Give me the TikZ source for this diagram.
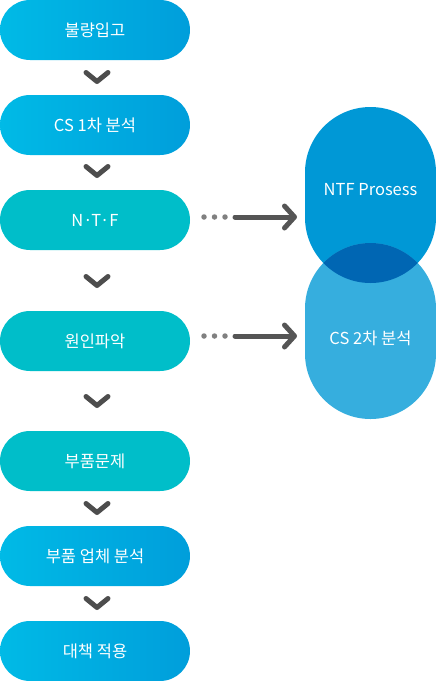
\documentclass[tikz,border=0pt]{standalone}
\usepackage{fontspec}
\setmainfont{Noto Sans CJK KR}
\usetikzlibrary{arrows.meta}
\definecolor{bluel}{RGB}{0,186,230}
\definecolor{bluer}{RGB}{0,158,219}
\definecolor{tealc}{RGB}{0,190,201}
\definecolor{topc}{RGB}{0,152,214}
\definecolor{botc}{RGB}{54,174,222}
\definecolor{overc}{RGB}{0,102,179}
\definecolor{chev}{RGB}{77,77,77}
\definecolor{arrc}{RGB}{85,85,85}
\definecolor{dotc}{RGB}{128,128,128}
\tikzset{
  pill/.style={rectangle, rounded corners=30pt, minimum width=190pt, minimum height=60pt,
    inner sep=0pt, text=white, font=\fontsize{16.5}{18}\selectfont},
  bluepill/.style={pill, left color=bluel, right color=bluer},
  tealpill/.style={pill, fill=tealc},
  tall/.style={rectangle, rounded corners=65.5pt, minimum width=131pt, minimum height=176pt,
    inner sep=0pt, text=white, font=\fontsize{16.5}{18}\selectfont},
  chevline/.style={draw=chev, line width=5pt, line cap=round, line join=round},
  arrline/.style={draw=arrc, line width=5pt, line cap=round, line join=round,
    -{Straight Barb[length=10pt,width=22pt,round]}},
  dotc/.style={circle, fill=dotc, minimum size=5.5pt, inner sep=0pt},
}
\begin{document}
\begin{tikzpicture}
\useasboundingbox (0,0) rectangle (436pt,-681pt);
% left pills
\node[bluepill] (p1) at (95pt,-30pt) {불량입고};
\node[bluepill] (p2) at (95pt,-125pt) {CS 1차 분석};
\node[tealpill] (p3) at (95pt,-220pt) {N·T·F};
\node[tealpill] (p4) at (95pt,-341pt) {원인파악};
\node[tealpill] (p5) at (95pt,-461pt) {부품문제};
\node[bluepill] (p6) at (95pt,-556pt) {부품 업체 분석};
\node[bluepill] (p7) at (95pt,-651pt) {대책 적용};
% chevrons
\foreach \y in {77,171,281,401,508,603}{
  \draw[chevline] (86pt,-\y pt+4.5pt) -- (97pt,-\y pt-4.5pt) -- (108pt,-\y pt+4.5pt);
}
% right shapes
\node[tall, fill=topc] (r1) at (370.5pt,-195pt) {};
\node[tall, fill=botc] (r2) at (370.5pt,-331pt) {};
\begin{scope}
  \clip[rounded corners=65.5pt] (305pt,-107pt) rectangle (436pt,-283pt);
  \fill[overc, rounded corners=65.5pt] (305pt,-243pt) rectangle (436pt,-419pt);
\end{scope}
\node[text=white, font=\fontsize{16.5}{18}\selectfont] (t1) at (r1.center) [yshift=5pt] {NTF Prosess};
\node[text=white, font=\fontsize{16.5}{18}\selectfont] (t2) at (r2.center) [yshift=-7pt] {CS 2차 분석};
% dotted arrows
\foreach \n/\y in {a/217,b/336}{
  \node[dotc] (\n d1) at (204pt,-\y pt) {};
  \node[dotc] (\n d2) at (214.5pt,-\y pt) {};
  \node[dotc] (\n d3) at (225pt,-\y pt) {};
  \coordinate (\n s) at (235pt,-\y pt);
  \coordinate (\n e) at (297pt,-\y pt);
  \draw[arrline] (\n s) -- (\n e);
}
\end{tikzpicture}
\end{document}
